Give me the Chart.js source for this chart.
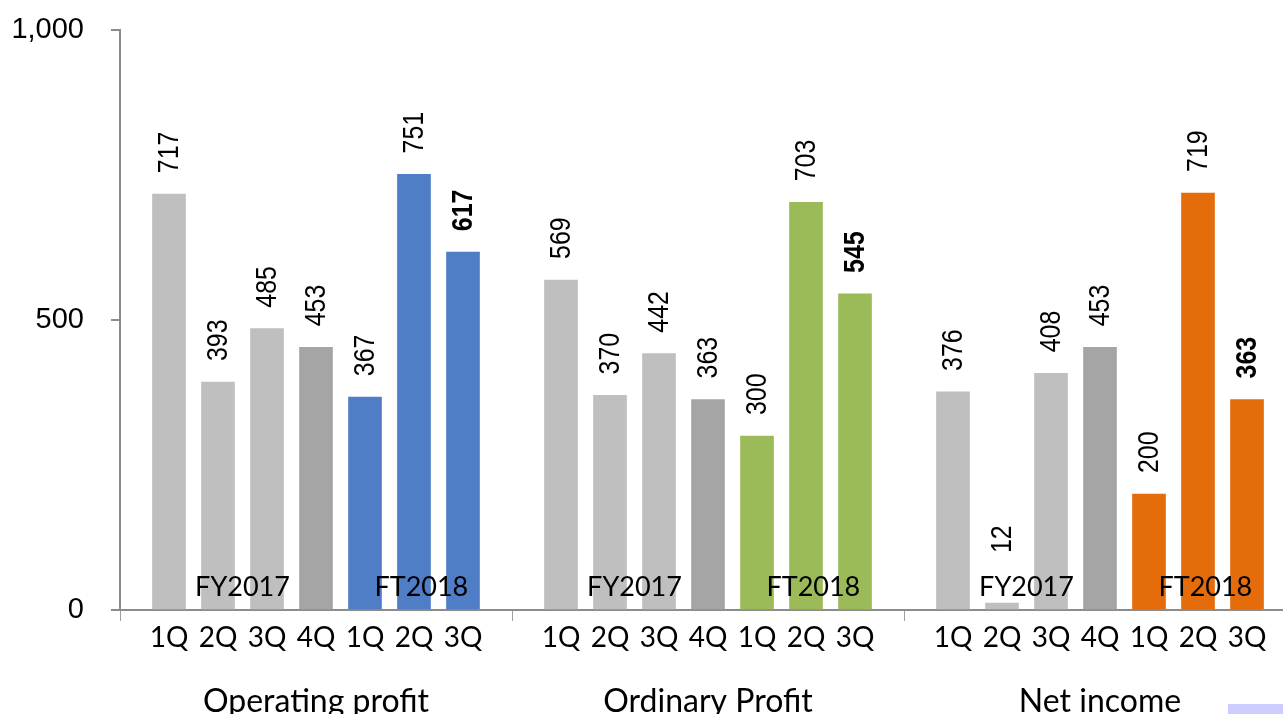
<!DOCTYPE html>
<html>
<head>
<meta charset="utf-8">
<script src="https://cdn.jsdelivr.net/npm/chart.js@4"></script>
<style>
  html, body { margin: 0; padding: 0; background: #fff; overflow: hidden; }
  #wrap { width: 1300px; height: 714px; }
</style>
</head>
<body>
<div id="wrap"><canvas id="chart" width="1300" height="714"></canvas></div>
<script>
// Données
const quarters = ['1Q', '2Q', '3Q', '4Q', '1Q', '2Q', '3Q'];
const groups = ['Operating profit', 'Ordinary Profit', 'Net income'];
const periods = ['FY2017', 'FT2018'];
const operatingProfit = [717, 393, 485, 453, 367, 751, 617];
const ordinaryProfit = [569, 370, 442, 363, 300, 703, 545];
const netIncome = [376, 12, 408, 453, 200, 719, 363];
const yTicks = [0, 500, 1000];

// Couleurs
const lightGray = '#BFBFBF';
const darkGray = '#A5A5A5';
const groupColors = ['#4F7EC7', '#9BBB59', '#E46C0A'];
const axisColor = '#8C8C8C';

// Construire les catégories : une case vide entre chaque groupe
const labels = [];
const values = [];
const colors = [];
const boldFlags = [];
[operatingProfit, ordinaryProfit, netIncome].forEach(function(series, g) {
    labels.push('');
    values.push(null);
    colors.push('transparent');
    boldFlags.push(false);
    series.forEach(function(v, k) {
        labels.push(quarters[k]);
        values.push(v);
        colors.push(k < 3 ? lightGray : (k === 3 ? darkGray : groupColors[g]));
        boldFlags.push(k === series.length - 1);
    });
});
labels.push('');
values.push(null);
colors.push('transparent');
boldFlags.push(false);

const groupSize = quarters.length + 1;

// Étiquettes de valeurs, périodes et groupes
const textPlugin = {
    id: 'texts',
    afterDatasetsDraw(chart) {
        const ctx = chart.ctx;
        const x = chart.scales.x;
        const y = chart.scales.y;
        const y0 = y.getPixelForValue(0);
        const meta = chart.getDatasetMeta(0);

        ctx.save();
        ctx.fillStyle = '#000';
        meta.data.forEach(function(bar, i) {
            if (values[i] === null) return;
            const start = Math.min(bar.y - 21, y0 - 57);
            ctx.save();
            ctx.translate(bar.x, start);
            ctx.rotate(-Math.PI / 2);
            ctx.scale(0.86, 1);
            ctx.font = (boldFlags[i] ? 'bold ' : '') + '29px "Liberation Sans"';
            ctx.textAlign = 'left';
            ctx.textBaseline = 'middle';
            ctx.fillText(String(values[i]), 0, 1);
            ctx.restore();
        });

        ctx.font = '27px Lato';
        ctx.textAlign = 'center';
        ctx.textBaseline = 'alphabetic';
        const periodOffsets = [2.5, 6.15];
        groups.forEach(function(name, g) {
            periods.forEach(function(p, j) {
                const px = x.getPixelForValue(g * groupSize + periodOffsets[j]);
                ctx.fillText(p, px, y0 - 14);
            });
        });

        ctx.font = '32px Lato';
        groups.forEach(function(name, g) {
            const px = x.getPixelForValue(g * groupSize + groupSize / 2);
            ctx.fillText(name, px, 712);
        });

        // petit rectangle en bas à droite
        ctx.fillStyle = '#CCCCFF';
        ctx.fillRect(1228, 704, 60, 10);
        ctx.restore();
    }
};

const ctx = document.getElementById('chart').getContext('2d');
new Chart(ctx, {
    type: 'bar',
    data: {
        labels: labels,
        datasets: [{
            data: values,
            backgroundColor: colors,
            barThickness: 33,
            borderWidth: 0
        }]
    },
    options: {
        responsive: false,
        animation: false,
        layout: { padding: { top: 30, right: 4, left: 0, bottom: 0 } },
        plugins: {
            legend: { display: false },
            tooltip: { enabled: false }
        },
        scales: {
            x: {
                offset: false,
                afterFit: function(scale) {
                    scale.height = 104;
                    scale.paddingLeft = 0;
                    scale.paddingRight = 0;
                },
                border: { color: axisColor, width: 2 },
                grid: {
                    offset: false,
                    drawOnChartArea: false,
                    drawTicks: true,
                    tickLength: 11,
                    lineWidth: 1,
                    color: function(c) {
                        return c.index % groupSize === 0 ? '#A0A0A0' : 'transparent';
                    }
                },
                ticks: {
                    autoSkip: false,
                    maxRotation: 0,
                    minRotation: 0,
                    padding: 0,
                    color: '#000',
                    font: { family: 'Lato', size: 28 }
                }
            },
            y: {
                min: 0,
                max: 1000,
                afterFit: function(scale) {
                    scale.width = 120;
                    scale.paddingTop = 0;
                    scale.paddingBottom = 0;
                },
                afterBuildTicks: function(scale) {
                    scale.ticks = yTicks.map(function(v) { return { value: v }; });
                },
                border: { color: axisColor, width: 2 },
                grid: {
                    drawOnChartArea: false,
                    drawTicks: true,
                    tickLength: 9,
                    color: axisColor,
                    lineWidth: 2
                },
                ticks: {
                    padding: 27,
                    color: '#000',
                    font: { family: '"Liberation Sans"', size: 29 },
                    callback: function(v) { return Number(v).toLocaleString('en-US'); }
                }
            }
        }
    },
    plugins: [textPlugin]
});
</script>
</body>
</html>
